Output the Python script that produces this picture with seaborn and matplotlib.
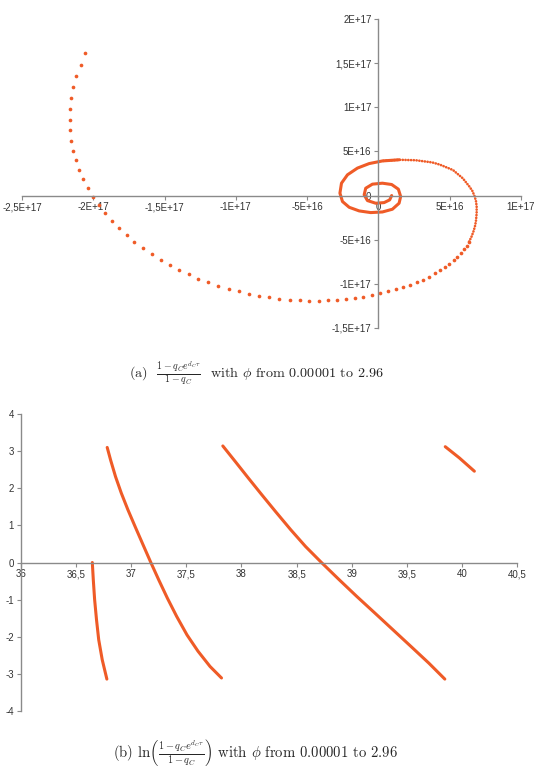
import numpy as np
import pandas as pd
import seaborn as sns
import matplotlib
matplotlib.use('Agg')
import matplotlib.pyplot as plt

# ---- data, units of 1e17 for the spiral ----
spiral_sparse_x = [-2.055, -2.089, -2.118, -2.140, -2.154, -2.161, -2.164, -2.161, -2.154, -2.142,
                   -2.123, -2.101, -2.072, -2.039, -2.002, -1.961, -1.918, -1.870, -1.819, -1.764,
                   -1.711, -1.651, -1.590, -1.528, -1.463, -1.398, -1.330, -1.263, -1.193, -1.123,
                   -1.051, -0.978, -0.908, -0.836, -0.764, -0.694, -0.622, -0.552, -0.484, -0.419,
                   -0.354, -0.289, -0.227, -0.166, -0.106, -0.048, 0.012, 0.070, 0.121, 0.172,
                   0.221, 0.268, 0.312, 0.354, 0.394, 0.431, 0.464, 0.497, 0.527, 0.552,
                   0.578, 0.599, 0.620, 0.636]
spiral_sparse_y = [1.609, 1.481, 1.353, 1.225, 1.100, 0.980, 0.855, 0.739, 0.622, 0.509,
                   0.399, 0.290, 0.185, 0.083, -0.015, -0.109, -0.200, -0.290, -0.373, -0.452,
                   -0.528, -0.599, -0.667, -0.727, -0.787, -0.844, -0.893, -0.942, -0.983, -1.021,
                   -1.055, -1.085, -1.112, -1.134, -1.153, -1.168, -1.179, -1.187, -1.191, -1.194,
                   -1.187, -1.183, -1.172, -1.160, -1.145, -1.130, -1.105, -1.086, -1.063, -1.037,
                   -1.011, -0.981, -0.951, -0.917, -0.879, -0.846, -0.808, -0.774, -0.733, -0.691,
                   -0.651, -0.609, -0.567, -0.522]

# dotted part of the outer turn (right side and over the top)
spiral_dot_x = [0.636, 0.652, 0.666, 0.677, 0.684, 0.689, 0.689, 0.684, 0.675, 0.660,
                0.638, 0.592, 0.523, 0.431, 0.378, 0.261, 0.145, 0.028]
spiral_dot_y = [-0.522, -0.470, -0.410, -0.350, -0.290, -0.200, -0.124, -0.060, -0.011, 0.050,
                0.102, 0.195, 0.289, 0.350, 0.375, 0.400, 0.405, 0.392]

# dense (continuous looking) inner turns
spiral_core_x = [0.145, 0.028, -0.065, -0.147, -0.217, -0.259, -0.270,
                 -0.252, -0.205, -0.135, -0.054, 0.028, 0.098, 0.145, 0.156, 0.140, 0.093,
                 0.028, -0.042, -0.089, -0.100, -0.077, -0.019, 0.040, 0.079, 0.093]
spiral_core_y = [0.405, 0.392, 0.362, 0.311, 0.235, 0.140, 0.027,
                 -0.068, -0.133, -0.174, -0.193, -0.186, -0.155, -0.087, -0.011, 0.072, 0.125,
                 0.140, 0.129, 0.083, 0.008, -0.057, -0.087, -0.080, -0.049, 0.000]

top_xticks = [-2.5, -2.0, -1.5, -1.0, -0.5, 0.0, 0.5, 1.0]
top_xlabels = ['-2,5E+17', '-2E+17', '-1,5E+17', '-1E+17', '-5E+16', '0', '5E+16', '1E+17']
top_yticks = [-1.5, -1.0, -0.5, 0.0, 0.5, 1.0, 1.5, 2.0]
top_ylabels = ['-1,5E+17', '-1E+17', '-5E+16', '0', '5E+16', '1E+17', '1,5E+17', '2E+17']

# ln(...) branches
b1_x = [36.647, 36.656, 36.668, 36.685, 36.705, 36.737, 36.779]
b1_y = [0.00, -0.47, -1.00, -1.54, -2.08, -2.62, -3.14]
b2_x = [36.782, 36.813, 36.858, 36.910, 36.970, 37.035, 37.107, 37.178, 37.250, 37.328,
        37.412, 37.506, 37.606, 37.715, 37.819]
b2_y = [3.10, 2.76, 2.31, 1.87, 1.42, 0.97, 0.48, 0.00, -0.47, -0.96,
        -1.45, -1.95, -2.39, -2.80, -3.11]
b3_x = [37.831, 37.944, 38.064, 38.186, 38.310, 38.448, 38.582, 38.726, 38.882, 39.045,
        39.210, 39.392, 39.552, 39.700, 39.845]
b3_y = [3.14, 2.72, 2.27, 1.82, 1.37, 0.88, 0.43, 0.00, -0.45, -0.91,
        -1.36, -1.86, -2.30, -2.71, -3.14]
b4_x = [39.849, 39.976, 40.113]
b4_y = [3.12, 2.82, 2.46]

bot_xticks = [36, 36.5, 37, 37.5, 38, 38.5, 39, 39.5, 40, 40.5]
bot_xlabels = ['36', '36,5', '37', '37,5', '38', '38,5', '39', '39,5', '40', '40,5']
bot_yticks = [-4, -3, -2, -1, 0, 1, 2, 3, 4]

cap_a = r'(a)  $\frac{1-q_C e^{d_C \tau}}{1-q_C}$  with $\phi$ from 0.00001 to 2.96'
cap_b = r'(b) ln$\left(\frac{1-q_C e^{d_C \tau}}{1-q_C}\right)$ with $\phi$ from 0.00001 to 2.96'

ORANGE = '#EF5B27'
AXC = '#8a8a8a'

sns.set_style('white')
plt.rcParams['font.family'] = ['Liberation Sans', 'DejaVu Sans']
plt.rcParams['mathtext.fontset'] = 'cm'

fig = plt.figure(figsize=(5.44, 7.71), dpi=100)
ax1 = fig.add_axes([0.0404, 0.5746, 0.9173, 0.4008])
ax2 = fig.add_axes([0.0386, 0.0778, 0.9118, 0.3852])


def style_axes(ax, left_at):
    for side in ['top', 'right']:
        ax.spines[side].set_visible(False)
    ax.spines['left'].set_position(('data', left_at))
    ax.spines['bottom'].set_position(('data', 0))
    for side in ['left', 'bottom']:
        ax.spines[side].set_color(AXC)
        ax.spines[side].set_linewidth(1.0)
    ax.tick_params(axis='both', direction='out', length=3, width=0.8, color=AXC,
                   labelsize=7, labelcolor='#333333', pad=2)
    ax.tick_params(axis='both', which='both', bottom=True, left=True)
    ax.set_xlabel('')
    ax.set_ylabel('')


# ---- top: spiral ----
sparse = pd.DataFrame({'x': spiral_sparse_x, 'y': spiral_sparse_y})
dots = pd.DataFrame({'x': spiral_dot_x, 'y': spiral_dot_y})
core = pd.DataFrame({'x': spiral_core_x, 'y': spiral_core_y})

sns.lineplot(data=core, x='x', y='y', sort=False, estimator=None, ax=ax1,
             color=ORANGE, linewidth=2.2, solid_capstyle='round', solid_joinstyle='round')
sns.lineplot(data=dots, x='x', y='y', sort=False, estimator=None, ax=ax1,
             color=ORANGE, linewidth=1.9, linestyle=(0, (0.05, 1.0)), dash_capstyle='round')
sns.scatterplot(data=sparse, x='x', y='y', ax=ax1, color=ORANGE, s=7, linewidth=0)

ax1.set_xlim(-2.5, 1.0)
ax1.set_ylim(-1.5, 2.0)
ax1.set_xticks(top_xticks)
ax1.set_xticklabels(top_xlabels)
ax1.set_yticks(top_yticks)
ax1.set_yticklabels(top_ylabels)
style_axes(ax1, 0)

# ---- bottom: ln branches ----
for bx, by in [(b1_x, b1_y), (b2_x, b2_y), (b3_x, b3_y), (b4_x, b4_y)]:
    seg = pd.DataFrame({'x': bx, 'y': by})
    sns.lineplot(data=seg, x='x', y='y', sort=False, estimator=None, ax=ax2,
                 color=ORANGE, linewidth=2.2, solid_capstyle='round', solid_joinstyle='round')

ax2.set_xlim(36, 40.5)
ax2.set_ylim(-4, 4)
ax2.set_xticks(bot_xticks)
ax2.set_xticklabels(bot_xlabels)
ax2.set_yticks(bot_yticks)
ax2.set_yticklabels([str(v) for v in bot_yticks])
style_axes(ax2, 36)

fig.text(256 / 544, 1 - 374 / 771, cap_a, ha='center', va='center', fontsize=10.2,
         family='cmr10')
fig.text(256 / 544, 1 - 752 / 771, cap_b, ha='center', va='center', fontsize=10.6,
         family='cmr10')

fig.savefig('out.png', dpi=100)
